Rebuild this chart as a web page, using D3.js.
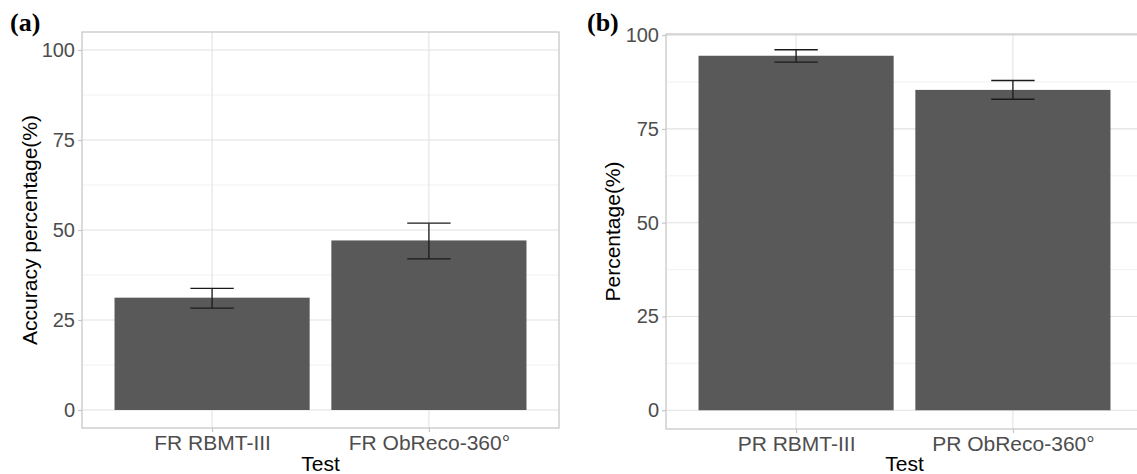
<!DOCTYPE html>
<html>
<head>
<meta charset="utf-8">
<script src="https://cdn.jsdelivr.net/npm/d3@7"></script>
<style>
    html, body { margin: 0; padding: 0; background: #fff; }
    svg { display: block; }
</style>
</head>
<body>
<svg id="chart" width="1137" height="474"></svg>
<script>
// panel (a)
const testsA = ['FR RBMT-III', 'FR ObReco-360°'];
const meansA = [31.2, 47.1];
const lowerA = [28.3, 42.0];
const upperA = [33.8, 51.9];

// panel (b)
const testsB = ['PR RBMT-III', 'PR ObReco-360°'];
const meansB = [94.5, 85.4];
const lowerB = [92.8, 82.9];
const upperB = [96.1, 87.9];

const majorTicks = [0, 25, 50, 75, 100];
const minorTicks = [12.5, 37.5, 62.5, 87.5];

const svg = d3.select('#chart');
const sans = '"Liberation Sans", Arial, sans-serif';

function drawPanel(opts) {
    const { left, top, bottom, width, yDomain, tests, means, lower, upper, yTitle, titleX, tag, tagX } = opts;
    const right = left + width;

    const x = d3.scalePoint().domain(tests).range([left, right]).padding(0.6);
    const y = d3.scaleLinear().domain(yDomain).range([bottom, top]);
    const step = x.step();

    const g = svg.append('g');

    // grid
    g.selectAll('line.minor').data(minorTicks).enter().append('line')
        .attr('x1', left).attr('x2', right)
        .attr('y1', d => y(d)).attr('y2', d => y(d))
        .attr('stroke', '#EEEEEE').attr('stroke-width', 0.8);
    g.selectAll('line.major').data(majorTicks).enter().append('line')
        .attr('x1', left).attr('x2', right)
        .attr('y1', d => y(d)).attr('y2', d => y(d))
        .attr('stroke', '#E2E2E2').attr('stroke-width', 1.1);
    g.selectAll('line.vmajor').data(tests).enter().append('line')
        .attr('x1', d => x(d)).attr('x2', d => x(d))
        .attr('y1', top).attr('y2', bottom)
        .attr('stroke', '#E2E2E2').attr('stroke-width', 1.1);

    // bars
    const bw = step * 0.9;
    g.selectAll('rect.bar').data(tests).enter().append('rect')
        .attr('x', d => x(d) - bw / 2)
        .attr('width', bw)
        .attr('y', (d, i) => y(means[i]))
        .attr('height', (d, i) => y(0) - y(means[i]))
        .attr('fill', '#595959');

    // error bars
    const cap = step * 0.2;
    const eb = g.selectAll('g.err').data(tests).enter().append('g');
    eb.append('line')
        .attr('x1', d => x(d)).attr('x2', d => x(d))
        .attr('y1', (d, i) => y(lower[i])).attr('y2', (d, i) => y(upper[i]));
    eb.append('line')
        .attr('x1', d => x(d) - cap / 2).attr('x2', d => x(d) + cap / 2)
        .attr('y1', (d, i) => y(upper[i])).attr('y2', (d, i) => y(upper[i]));
    eb.append('line')
        .attr('x1', d => x(d) - cap / 2).attr('x2', d => x(d) + cap / 2)
        .attr('y1', (d, i) => y(lower[i])).attr('y2', (d, i) => y(lower[i]));
    eb.selectAll('line').attr('stroke', '#1a1a1a').attr('stroke-width', 1.3);

    // panel border
    g.append('rect')
        .attr('x', left).attr('y', top)
        .attr('width', width).attr('height', bottom - top)
        .attr('fill', 'none').attr('stroke', '#C4C4C4').attr('stroke-width', 1.2);

    // axes
    const yAxis = g.append('g')
        .attr('transform', `translate(${left},0)`)
        .call(d3.axisLeft(y).tickValues(majorTicks).tickSize(4).tickPadding(3));
    const xAxis = g.append('g')
        .attr('transform', `translate(0,${bottom})`)
        .call(d3.axisBottom(x).tickSize(4).tickPadding(3));
    [yAxis, xAxis].forEach(a => {
        a.select('.domain').remove();
        a.selectAll('.tick line').attr('stroke', '#C4C4C4').attr('stroke-width', 1.1);
        a.selectAll('.tick text')
            .attr('fill', '#4D4D4D')
            .style('font-family', sans);
    });
    yAxis.selectAll('.tick text').style('font-size', '20px');
    xAxis.selectAll('.tick text').style('font-size', '21px');

    // titles
    g.append('text')
        .attr('transform', `translate(${titleX},${(top + bottom) / 2}) rotate(-90)`)
        .attr('text-anchor', 'middle')
        .style('font-family', sans)
        .style('font-size', '21px')
        .attr('fill', '#000')
        .text(yTitle);
    g.append('text')
        .attr('x', (left + right) / 2).attr('y', 471)
        .attr('text-anchor', 'middle')
        .style('font-family', sans)
        .style('font-size', '21px')
        .attr('fill', '#000')
        .text('Test');

    g.append('text')
        .attr('x', tagX).attr('y', 31)
        .style('font-family', '"Liberation Serif", "Times New Roman", serif')
        .style('font-weight', 'bold')
        .style('font-size', '26px')
        .attr('fill', '#000')
        .text(tag);
}

drawPanel({
    left: 82, top: 32, bottom: 428, width: 477,
    yDomain: [-5, 105],
    tests: testsA, means: meansA, lower: lowerA, upper: upperA,
    yTitle: 'Accuracy percentage(%)', titleX: 37, tag: '(a)', tagX: 10
});

drawPanel({
    left: 666, top: 34, bottom: 429, width: 477,
    yDomain: [-5, 100.3],
    tests: testsB, means: meansB, lower: lowerB, upper: upperB,
    yTitle: 'Percentage(%)', titleX: 620, tag: '(b)', tagX: 587
});
</script>
</body>
</html>
